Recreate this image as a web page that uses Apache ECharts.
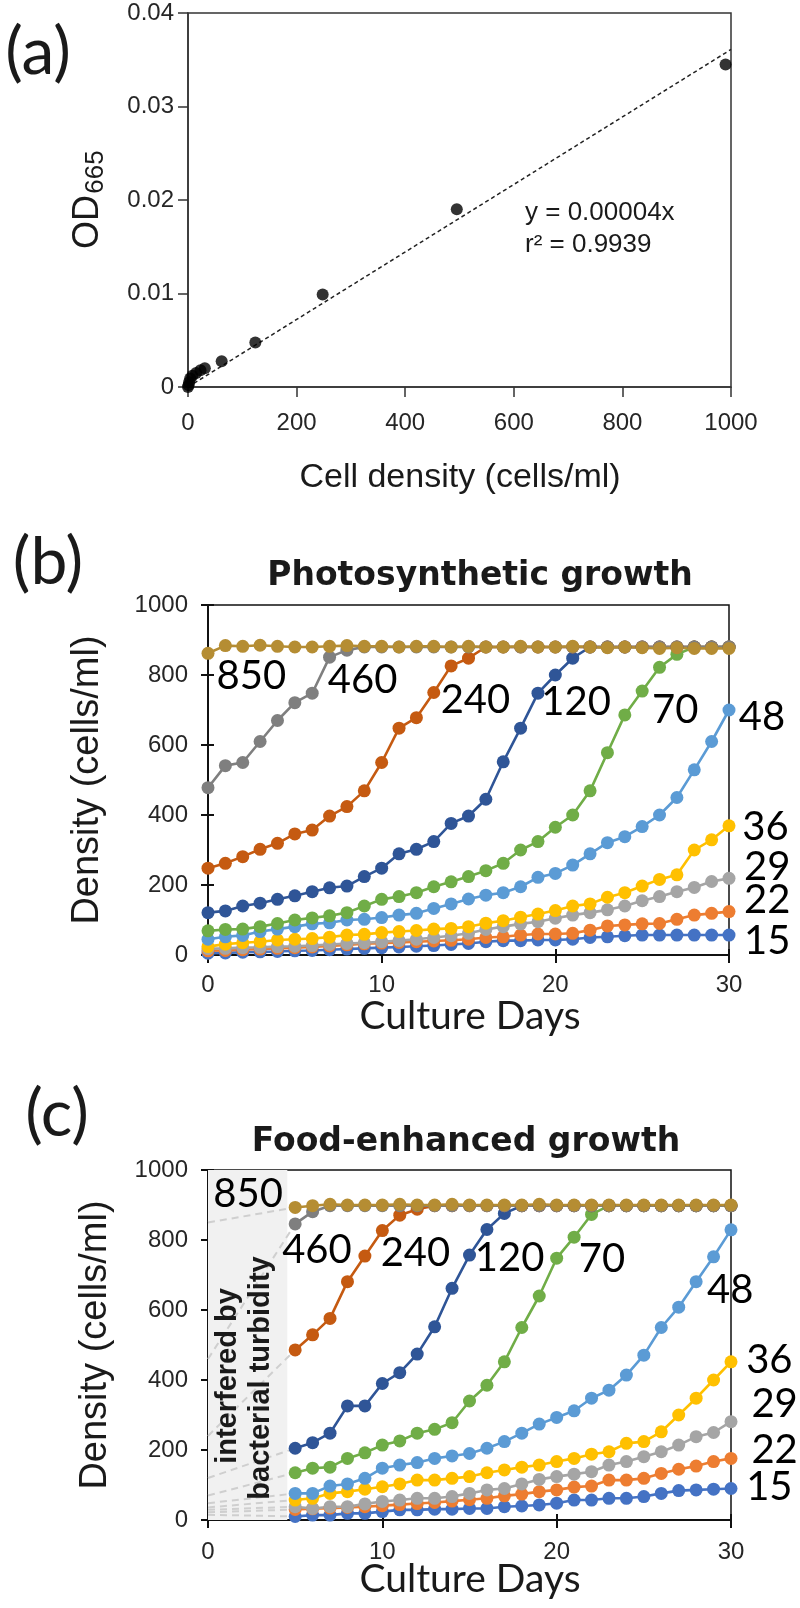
<!DOCTYPE html>
<html><head><meta charset="utf-8">
<script src="https://cdn.jsdelivr.net/npm/echarts/dist/echarts.min.js"></script>
<style>html,body{margin:0;padding:0;background:#fff}#c{width:800px;height:1608px}</style>
</head><body><div id="c"></div>
<script>
// ---------- Panel (a): calibration ----------
const cellDensity = [0, 1, 2, 4, 8, 15, 23, 31, 62, 124, 248, 495, 990];
const od665 = [0, 0.0002, 0.0005, 0.0009, 0.0012, 0.0015, 0.0018, 0.0020, 0.00275, 0.00475, 0.0099, 0.0190, 0.0345];
const fitX = [0, 1000];
const fitY = [0, 0.0361];
const xTicksA = [0, 200, 400, 600, 800, 1000];
const yTicksA = [0, 0.01, 0.02, 0.03, 0.04];

// ---------- Panels (b),(c) ----------
const seriesLabels = ['15', '22', '29', '36', '48', '70', '120', '240', '460', '850'];
const nominal = [15, 22, 29, 36, 48, 70, 120, 240, 460, 850];
const xTicksBC = [0, 10, 20, 30];
const yTicksBC = [0, 200, 400, 600, 800, 1000];

const daysB = [0,1,2,3,4,5,6,7,8,9,10,11,12,13,14,15,16,17,18,19,20,21,22,23,24,25,26,27,28,29,30];
const b15  = [5, 6, 8, 9, 10, 12, 13, 15, 17, 19, 21, 23, 25, 27, 30, 33, 38, 41, 41, 43, 43, 45, 50, 52, 55, 57, 57, 57, 57, 57, 57];
const b22  = [12, 13, 15, 17, 19, 21, 23, 26, 29, 32, 34, 36, 38, 40, 42, 45, 50, 52, 57, 60, 60, 62, 71, 83, 86, 89, 90, 102, 114, 119, 124];
const b29  = [18, 19, 21, 22, 24, 25, 27, 30, 33, 35, 38, 41, 45, 50, 55, 62, 73, 81, 89, 95, 105, 114, 121, 129, 140, 155, 167, 181, 193, 210, 219];
const b36  = [24, 31, 35, 38, 43, 45, 47, 51, 57, 59, 64, 67, 70, 74, 76, 81, 91, 98, 108, 117, 127, 140, 146, 165, 178, 197, 216, 229, 300, 329, 369];
const b48  = [45, 52, 56, 67, 74, 81, 89, 92, 100, 102, 107, 114, 119, 133, 146, 160, 171, 178, 195, 222, 233, 257, 289, 321, 338, 367, 400, 450, 529, 610, 700];
const b70  = [69, 73, 74, 81, 90, 100, 106, 112, 121, 140, 159, 167, 178, 195, 209, 224, 241, 262, 300, 324, 365, 400, 469, 578, 686, 754, 822, 859, 880, 880, 880];
const b120 = [121, 126, 140, 148, 159, 169, 181, 192, 197, 224, 248, 289, 302, 324, 376, 397, 445, 552, 648, 748, 800, 848, 880, 880, 880, 880, 880, 880, 880, 880, 880];
const b240 = [248, 262, 281, 302, 319, 346, 357, 397, 424, 469, 550, 648, 678, 750, 826, 848, 880, 880, 880, 880, 880, 880, 880, 880, 880, 880, 880, 880, 880, 880, 880];
const b460 = [478, 541, 550, 610, 670, 721, 748, 851, 871, 880, 880, 880, 880, 880, 880, 880, 880, 880, 880, 880, 880, 880, 880, 880, 880, 880, 880, 880, 880, 880, 880];
const b850 = [862, 884, 882, 885, 882, 880, 880, 882, 884, 882, 882, 880, 882, 882, 880, 882, 880, 880, 882, 880, 880, 882, 880, 878, 880, 878, 876, 878, 876, 876, 876];

const daysC = [5,6,7,8,9,10,11,12,13,14,15,16,17,18,19,20,21,22,23,24,25,26,27,28,29,30];
const c15  = [10, 14, 14, 19, 19, 24, 29, 29, 31, 31, 33, 33, 38, 40, 43, 48, 57, 57, 62, 62, 67, 76, 84, 86, 88, 90];
const c22  = [30, 32, 34, 36, 38, 41, 44, 47, 50, 54, 58, 62, 69, 74, 81, 86, 94, 97, 114, 114, 119, 133, 145, 154, 167, 176];
const c29  = [38, 33, 38, 38, 46, 53, 57, 62, 62, 67, 76, 86, 90, 103, 116, 124, 131, 138, 157, 167, 181, 195, 214, 238, 250, 281];
const c36  = [57, 62, 76, 81, 88, 95, 103, 114, 114, 119, 124, 135, 143, 151, 157, 167, 176, 188, 195, 219, 224, 252, 300, 348, 400, 452];
const c48  = [76, 76, 97, 103, 119, 148, 157, 164, 176, 183, 190, 205, 224, 248, 274, 293, 312, 348, 371, 414, 471, 550, 608, 681, 752, 829];
const c70  = [135, 148, 151, 176, 192, 214, 226, 248, 259, 278, 340, 385, 452, 550, 640, 748, 808, 873, 898, 898, 898, 898, 898, 898, 898, 898];
const c120 = [205, 221, 248, 326, 326, 390, 421, 474, 552, 662, 757, 830, 876, 898, 898, 898, 898, 898, 898, 898, 898, 898, 898, 898, 898, 898];
const c240 = [486, 529, 576, 681, 754, 827, 871, 888, 898, 898, 898, 898, 898, 898, 898, 898, 898, 898, 898, 898, 898, 898, 898, 898, 898, 898];
const c460 = [846, 881, 898, 898, 898, 898, 898, 898, 898, 898, 898, 898, 898, 898, 898, 898, 898, 898, 898, 898, 898, 898, 898, 898, 898, 898];
const c850 = [893, 898, 902, 900, 900, 900, 902, 900, 900, 902, 900, 900, 900, 900, 902, 900, 900, 900, 900, 900, 900, 900, 900, 900, 900, 900];

// ---------- styling / placement (not data) ----------
const colors = ['#4472C4', '#ED7D31', '#A5A5A5', '#FFC000', '#5B9BD5', '#70AD47', '#2F5597', '#C55A11', '#7F7F7F', '#B58D33'];
const seriesB = [b15, b22, b29, b36, b48, b70, b120, b240, b460, b850];
const seriesC = [c15, c22, c29, c36, c48, c70, c120, c240, c460, c850];
const labelPosB = [[32.2, 40], [32.2, 157], [32.2, 251], [32.1, 366], [31.9, 680], [26.9, 700], [21.2, 723], [15.4, 729], [8.9, 786], [2.5, 797]];
const labelPosC = [[32.2, 94], [32.5, 200], [32.5, 331], [32.2, 457], [29.95, 657], [22.6, 746], [17.3, 749], [11.9, 763], [6.25, 771], [2.3, 931]];
const SHADE_END = 4.55;

const AX = '"Liberation Sans", Arial, sans-serif';
const LBL = 'Lato, "Open Sans", sans-serif';
const TXT = '#1a1a1a';
const plain = v => String(+(+v).toFixed(4));

function mainX(grid, margin) {
  return {gridIndex: grid, type: 'value', min: xTicksBC[0], max: xTicksBC[xTicksBC.length - 1], interval: xTicksBC[1] - xTicksBC[0],
    axisLine: {show: true, onZero: false, lineStyle: {color: '#111', width: 2}},
    axisTick: {show: true, inside: false, length: 8, lineStyle: {color: '#111', width: 2}},
    axisLabel: {margin: margin, fontSize: 24, fontFamily: AX, color: '#262626', formatter: plain}, splitLine: {show: false}};
}
function innerX(grid) {
  return {gridIndex: grid, type: 'value', position: 'bottom', min: xTicksBC[0], max: xTicksBC[xTicksBC.length - 1], interval: xTicksBC[1] - xTicksBC[0],
    axisLine: {show: false}, axisTick: {show: true, inside: true, length: 6, lineStyle: {color: '#111', width: 2}},
    axisLabel: {show: false}, splitLine: {show: false}};
}
function mainY(grid) {
  return {gridIndex: grid, type: 'value', min: yTicksBC[0], max: yTicksBC[yTicksBC.length - 1], interval: yTicksBC[1] - yTicksBC[0],
    axisLine: {show: true, onZero: false, lineStyle: {color: '#111', width: 2}},
    axisTick: {show: true, inside: false, length: 7, lineStyle: {color: '#111', width: 2}},
    axisLabel: {margin: 20, fontSize: 24, fontFamily: AX, color: '#262626', formatter: plain}, splitLine: {show: false}};
}
function innerY(grid) {
  return {gridIndex: grid, type: 'value', position: 'left', min: yTicksBC[0], max: yTicksBC[yTicksBC.length - 1], interval: yTicksBC[1] - yTicksBC[0],
    axisLine: {show: false}, axisTick: {show: true, inside: true, length: 6, lineStyle: {color: '#111', width: 2}},
    axisLabel: {show: false}, splitLine: {show: false}};
}

const series = [];
// (a)
series.push({type: 'line', xAxisIndex: 0, yAxisIndex: 0, data: fitX.map((x, i) => [x, fitY[i]]), symbol: 'none',
  lineStyle: {color: '#222', width: 1.5, type: [4, 3]}, z: 2, silent: true});
series.push({type: 'scatter', xAxisIndex: 0, yAxisIndex: 0, data: cellDensity.map((x, i) => [x, od665[i]]),
  symbolSize: 12, itemStyle: {color: '#000'}, z: 3, silent: true});
// (b)
seriesB.forEach((vals, k) => {
  series.push({type: 'line', name: 'b' + seriesLabels[k], xAxisIndex: 1, yAxisIndex: 1,
    data: daysB.map((d, i) => [d, vals[i]]), symbol: 'circle', symbolSize: 13, showAllSymbol: true,
    lineStyle: {color: colors[k], width: 2.6}, itemStyle: {color: colors[k]}, z: 3, silent: true});
});
// (c) shaded area + extrapolation dashes
seriesC.forEach((vals, k) => {
  const s = {type: 'line', xAxisIndex: 3, yAxisIndex: 3, data: [[0, nominal[k]], [daysC[0], vals[0]]], symbol: 'none',
    lineStyle: {color: '#CFCFCF', width: 2, type: [7, 5]}, z: 2, silent: true};
  if (k === 0) {
    s.markArea = {silent: true, z: 1, itemStyle: {color: '#F1F1F1'},
      data: [[{xAxis: 0, yAxis: yTicksBC[0]}, {xAxis: SHADE_END, yAxis: yTicksBC[yTicksBC.length - 1]}]]};
  }
  series.push(s);
});
seriesC.forEach((vals, k) => {
  series.push({type: 'line', name: 'c' + seriesLabels[k], xAxisIndex: 3, yAxisIndex: 3,
    data: daysC.map((d, i) => [d, vals[i]]), symbol: 'circle', symbolSize: 13, showAllSymbol: true,
    lineStyle: {color: colors[k], width: 2.6}, itemStyle: {color: colors[k]}, z: 3, silent: true});
});

const option = {
  animation: false,
  backgroundColor: '#fff',
  grid: [
    {left: 188, top: 13, width: 543, height: 374, show: true, borderColor: '#333', borderWidth: 1.5, backgroundColor: 'transparent'},
    {left: 208, top: 605, width: 521, height: 350, show: true, borderColor: '#111', borderWidth: 1.5, backgroundColor: 'transparent'},
    {left: 208, top: 1170, width: 523, height: 350, show: true, borderColor: '#111', borderWidth: 1.5, backgroundColor: 'transparent'}
  ],
  xAxis: [
    {gridIndex: 0, type: 'value', min: xTicksA[0], max: xTicksA[xTicksA.length - 1], interval: xTicksA[1] - xTicksA[0],
      axisLine: {show: true, onZero: false, lineStyle: {color: '#333', width: 1.5}},
      axisTick: {show: true, inside: false, length: 10, lineStyle: {color: '#333', width: 1.5}},
      axisLabel: {margin: 24, fontSize: 24, fontFamily: AX, color: '#262626', formatter: plain}, splitLine: {show: false}},
    mainX(1, 18), innerX(1), mainX(2, 20), innerX(2)
  ],
  yAxis: [
    {gridIndex: 0, type: 'value', min: yTicksA[0], max: yTicksA[yTicksA.length - 1], interval: yTicksA[1] - yTicksA[0],
      axisLine: {show: true, onZero: false, lineStyle: {color: '#333', width: 1.5}},
      axisTick: {show: true, inside: false, length: 10, lineStyle: {color: '#333', width: 1.5}},
      axisLabel: {margin: 14, fontSize: 24, fontFamily: AX, color: '#262626', formatter: plain}, splitLine: {show: false}},
    mainY(1), innerY(1), mainY(2), innerY(2)
  ],
  series: series
};

const chart = echarts.init(document.getElementById('c'), null, {renderer: 'canvas'});
chart.setOption(option);

function txt(text, x, y, font, opts) {
  opts = opts || {};
  return {type: 'text', x: x, y: y, rotation: opts.rot || 0, z: 100, silent: true,
    style: {text: text, x: 0, y: 0, fill: opts.fill || TXT, font: font,
      textAlign: opts.align || 'center', textVerticalAlign: 'middle'}};
}
const R = Math.PI / 2;
const g = [
  txt('(a)', 38, 53, 'normal 66px ' + LBL),
  txt('(b)', 48, 563, 'normal 66px ' + LBL),
  txt('(c)', 57, 1115, 'normal 66px ' + LBL),
  txt('Photosynthetic growth', 480, 576, 'bold 33px "DejaVu Sans", sans-serif'),
  txt('Food-enhanced growth', 466, 1142, 'bold 33px "DejaVu Sans", sans-serif'),
  txt('OD', 88, 222, 'normal 36px ' + AX, {rot: R}),
  txt('665', 96, 172, 'normal 26px ' + AX, {rot: R}),
  txt('y = 0.00004x', 525, 213, 'normal 26px ' + AX, {align: 'left'}),
  txt('r\u00B2 = 0.9939', 525, 245, 'normal 26px ' + AX, {align: 'left'}),
  txt('Cell density (cells/ml)', 460, 478, 'normal 34px ' + AX),
  txt('Density (cells/ml)', 88, 780, 'normal 38px ' + AX, {rot: R}),
  txt('Density (cells/ml)', 96, 1345, 'normal 38px ' + AX, {rot: R}),
  txt('Culture Days', 470, 1016, 'normal 39px ' + LBL),
  txt('Culture Days', 470, 1579, 'normal 39px ' + LBL),
  txt('interfered by', 228, 1376, 'bold 29px ' + AX, {rot: R}),
  txt('bacterial turbidity', 261, 1378, 'bold 29px ' + AX, {rot: R})
];
seriesLabels.forEach((t, k) => {
  const pb = chart.convertToPixel({xAxisIndex: 1, yAxisIndex: 1}, labelPosB[k]);
  g.push(txt(t, pb[0], pb[1], 'normal 40px ' + LBL, {fill: '#000'}));
  const pc = chart.convertToPixel({xAxisIndex: 3, yAxisIndex: 3}, labelPosC[k]);
  g.push(txt(t, pc[0], pc[1], 'normal 40px ' + LBL, {fill: '#000'}));
});
chart.setOption({graphic: g});
</script>
</body></html>
